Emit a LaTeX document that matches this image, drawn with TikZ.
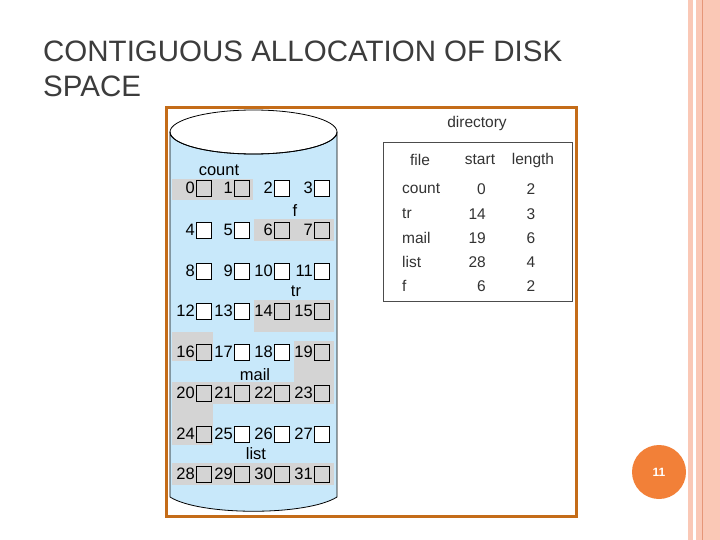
\documentclass[tikz,border=0pt]{standalone}
\usepackage{fontspec}
\setmainfont{Liberation Sans}
\begin{document}
\begin{tikzpicture}[x=1pt,y=-1pt,
  lbl/.style={font=\fontsize{16.5}{16}\selectfont, inner sep=0pt},
  cellw/.style={draw=black, line width=0.8pt, fill=white, minimum width=15pt, minimum height=16pt, inner sep=0pt},
  cellg/.style={draw=black, line width=0.8pt, fill=grayc, minimum width=15pt, minimum height=16pt, inner sep=0pt},
  tbl/.style={font=\fontsize{15.5}{16}\selectfont, inner sep=0pt, text=black!80}]
\definecolor{frameo}{RGB}{196,108,24}
\definecolor{cylb}{RGB}{200,232,250}
\definecolor{grayc}{RGB}{212,212,212}
\definecolor{pinkl}{RGB}{250,200,182}
\definecolor{pinkd}{RGB}{230,150,120}
\definecolor{circo}{RGB}{242,128,56}
\definecolor{titlec}{RGB}{60,60,60}
\useasboundingbox (0,0) rectangle (720,540);
\fill[white] (0,0) rectangle (720,540);
% right stripes
\fill[pinkl] (688,0) rectangle (693,540);
\fill[pinkl] (696,0) rectangle (720,540);
\draw[pinkd, line width=0.8pt] (702,0) -- (702,540);
% title
\node[anchor=north west, align=left, text=titlec, font=\fontsize{29.5}{35}\selectfont, inner sep=0pt] (title) at (43,41) {CONTIGUOUS ALLOCATION OF DISK\\SPACE};
% frame
\draw[frameo, line width=3pt] (166,108) rectangle (576,516);
% cylinder
\draw[fill=cylb, line width=0.8pt] (170,132) -- (170,497) .. controls (200,516) and (307,516) .. (337,497) -- (337,132) arc[start angle=0, end angle=180, x radius=83.5, y radius=22];
\draw[line width=0.8pt] (253.5,132) ellipse[x radius=83.5, y radius=22];
% gray regions
\fill[grayc] (172,179) rectangle (253,200);
\fill[grayc] (254,219) rectangle (334,241);
\fill[grayc] (254,300) rectangle (334,332);
\fill[grayc] (172,332) rectangle (213,361);
\fill[grayc] (294,341) rectangle (334,383);
\fill[grayc] (172,382) rectangle (334,404);
\fill[grayc] (172,403) rectangle (213,445);
\fill[grayc] (172,463) rectangle (334,485);
% labels
\node[lbl] (lcount) at (219,170) {count};
\node[lbl] (lf) at (295,211) {f};
\node[lbl] (ltr) at (296,291) {tr};
\node[lbl] (lmail) at (255,375) {mail};
\node[lbl] (llist) at (256,454) {list};
% cells
\foreach \i in {0,...,31}{
  \pgfmathtruncatemacro{\r}{div(\i,4)}
  \pgfmathtruncatemacro{\c}{mod(\i,4)}
  \pgfmathsetmacro{\bx}{{196,234,274,314}[\c]}
  \pgfmathsetmacro{\by}{{188,230,271,311,352,393,434,474}[\r]}
  \def\st{cellw}
  \foreach \g in {0,1,6,7,14,15,16,19,20,21,22,23,24,28,29,30,31}{\ifnum\g=\i\global\def\st{cellg}\fi}
  \node[\st, anchor=west] (b\i) at (\bx,\by) {};
  \node[lbl, anchor=east] (n\i) at ([xshift=-1pt]b\i.west) {\i};
  \gdef\st{cellw}
}
% directory
\node[tbl] (dir) at (477,123) {directory};
\draw[black!70, line width=1pt] (383,143) rectangle (572,301);
\node[tbl] (hfile) at (420,160) {file};
\node[tbl] (hstart) at (480,160) {start};
\node[tbl] (hlen) at (533,160) {length};
\foreach \f/\s/\l/\y [count=\k] in {count/0/2/189, tr/14/3/214, mail/19/6/238, list/28/4/262, f/6/2/286}{
  \node[tbl, anchor=west] (df\k) at (402,\y) {\f};
  \node[tbl, anchor=east] (ds\k) at (486,\y) {\s};
  \node[tbl] (dl\k) at (531,\y) {\l};
}
% page number
\node[circle, fill=circo, minimum size=54pt, inner sep=0pt, text=white, font=\bfseries\fontsize{12}{12}\selectfont] (pg) at (659,472) {11};
\end{tikzpicture}
\end{document}
